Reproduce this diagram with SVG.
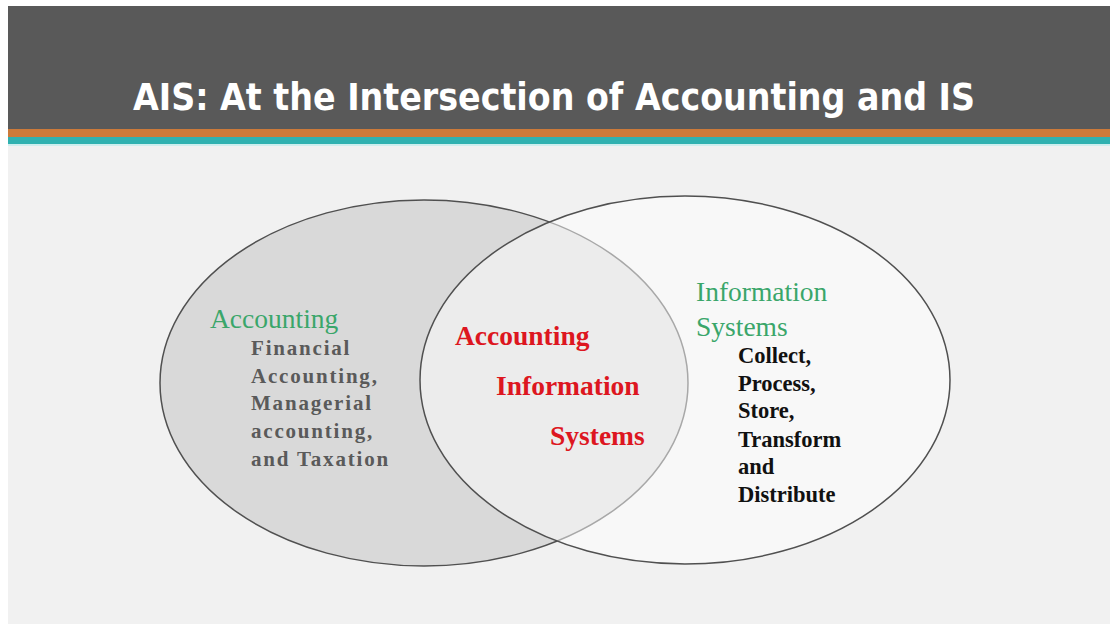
<svg xmlns="http://www.w3.org/2000/svg" width="1110" height="624" viewBox="0 0 1110 624">
  <style>
    .title { font-family: "DejaVu Sans Condensed", "DejaVu Sans", sans-serif; font-weight: bold; font-size: 37px; fill: #ffffff; }
    .head { font-family: "Liberation Serif", serif; font-size: 27.5px; fill: #3aa66a; }
    .acct { font-family: "Liberation Serif", serif; font-weight: bold; font-size: 21px; fill: #5a5a5a; letter-spacing: 1.8px; }
    .ais { font-family: "Liberation Serif", serif; font-weight: bold; font-size: 27.5px; fill: #dd1620; }
    .is { font-family: "Liberation Serif", serif; font-weight: bold; font-size: 22.5px; fill: #111111; }
  </style>
  <rect x="0" y="0" width="1110" height="624" fill="#ffffff"/>
  <!-- slide body -->
  <rect x="8" y="6" width="1102" height="618" fill="#f1f1f1"/>
  <!-- header bar with accent stripes -->
  <rect x="8" y="6" width="1102" height="123" fill="#595959"/>
  <rect x="8" y="129" width="1102" height="8" fill="#cc7a3a"/>
  <rect x="8" y="137" width="1102" height="7" fill="#2fb1b0"/>
  <rect x="8" y="144" width="1102" height="2" fill="#cdeeee"/>
  <text class="title" x="133" y="110" textLength="842" lengthAdjust="spacingAndGlyphs">AIS: At the Intersection of Accounting and IS</text>

  <g id="accounting">
    <ellipse cx="424" cy="383" rx="264" ry="183" fill="#d9d9d9" stroke="#505050" stroke-width="1.5"/>
    <text class="head" x="210" y="328">Accounting</text>
    <text class="acct" x="251" y="355">Financial</text>
    <text class="acct" x="251" y="383">Accounting,</text>
    <text class="acct" x="251" y="410">Managerial</text>
    <text class="acct" x="251" y="438">accounting,</text>
    <text class="acct" x="251" y="466">and Taxation</text>
  </g>

  <g id="information-systems">
    <ellipse cx="685" cy="380" rx="265" ry="184" fill="#ffffff" fill-opacity="0.5" stroke="#505050" stroke-width="1.5"/>
    <text class="head" x="696" y="301">Information</text>
    <text class="head" x="696" y="336">Systems</text>
    <text class="is" x="738" y="363">Collect,</text>
    <text class="is" x="738" y="391">Process,</text>
    <text class="is" x="738" y="418">Store,</text>
    <text class="is" x="738" y="447">Transform</text>
    <text class="is" x="738" y="474">and</text>
    <text class="is" x="738" y="502">Distribute</text>
  </g>

  <g id="ais">
    <text class="ais" x="455" y="345">Accounting</text>
    <text class="ais" x="496" y="395">Information</text>
    <text class="ais" x="550" y="445">Systems</text>
  </g>
</svg>
